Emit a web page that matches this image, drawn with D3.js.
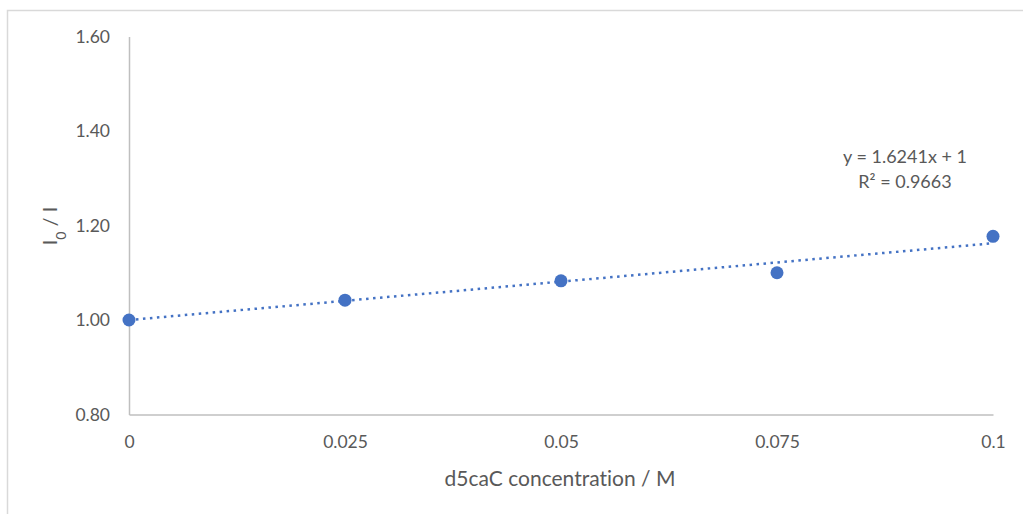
<!DOCTYPE html>
<html>
<head>
<meta charset="utf-8">
<script src="https://cdn.jsdelivr.net/npm/d3@7"></script>
<style>
  html, body { margin: 0; padding: 0; background: #fff; }
  svg { display: block; }
  text { font-family: Lato, "Open Sans", sans-serif; fill: #595959; font-variant-ligatures: none; }
</style>
</head>
<body>
<svg id="chart" width="1023" height="514"></svg>
<script>
// Concentrations (M) and measured I0/I ratios
const concentrations = [0, 0.025, 0.05, 0.075, 0.1];
const ratios = [1.000, 1.042, 1.083, 1.100, 1.177];
const xTicks = [0, 0.025, 0.05, 0.075, 0.1];
const xTickLabels = ["0", "0.025", "0.05", "0.075", "0.1"];
const yTicks = [0.8, 1.0, 1.2, 1.4, 1.6];
const yTickLabels = ["0.80", "1.00", "1.20", "1.40", "1.60"];
// Linear fit forced through intercept 1
const fitSlope = [1.6241];
const fitIntercept = [1];
const fitLabels = ["y = 1.6241x + 1", "R² = 0.9663"];

const svg = d3.select("#chart");
const blue = "#4472C4";
const axisGrey = "#bfbfbf";

// Chart frame
svg.append("path")
  .attr("d", "M7.5,514 L7.5,10.5 L1023,10.5")
  .attr("fill", "none")
  .attr("stroke", "#d9d9d9")
  .attr("stroke-width", 1.5);

const x = d3.scaleLinear().domain([0, 0.1]).range([129, 993]);
const y = d3.scaleLinear().domain([0.8, 1.6]).range([414.5, 36.5]);

// Y axis
const yAxis = d3.axisLeft(y).tickValues(yTicks)
  .tickFormat((d, i) => yTickLabels[i]).tickSize(0).tickPadding(19);
const gy = svg.append("g").attr("transform", `translate(${x(0)},0)`).call(yAxis);
gy.select(".domain").attr("stroke", axisGrey).attr("stroke-width", 1.5);
gy.selectAll("text").style("font-size", "17.5px").attr("fill", "#595959");

// X axis
const xAxis = d3.axisBottom(x).tickValues(xTicks)
  .tickFormat((d, i) => xTickLabels[i]).tickSize(0).tickPadding(21);
const gx = svg.append("g").attr("transform", `translate(0,${y(0.8)})`).call(xAxis);
gx.select(".domain").attr("stroke", axisGrey).attr("stroke-width", 1.5);
gx.selectAll("text").style("font-size", "17.5px").attr("fill", "#595959");

// Axis titles
svg.append("text")
  .attr("x", 560).attr("y", 486)
  .attr("text-anchor", "middle")
  .style("font-size", "21px")
  .text("d5caC concentration / M");

const yTitle = svg.append("text")
  .attr("transform", "translate(57,226) rotate(-90)")
  .attr("text-anchor", "middle")
  .style("font-size", "20px");
yTitle.append("tspan").text("I");
yTitle.append("tspan").attr("baseline-shift", "sub").style("font-size", "14px").text("0");
yTitle.append("tspan").text(" / I");

// Trendline
const fit = v => fitSlope[0] * v + fitIntercept[0];
svg.append("line")
  .attr("x1", x(0)).attr("y1", y(fit(0)))
  .attr("x2", x(0.1)).attr("y2", y(fit(0.1)))
  .attr("stroke", blue)
  .attr("stroke-width", 2.5)
  .attr("stroke-dasharray", "2.5 4.5");

// Data points
svg.append("g").selectAll("circle")
  .data(concentrations)
  .join("circle")
  .attr("cx", d => x(d))
  .attr("cy", (d, i) => y(ratios[i]))
  .attr("r", 6.5)
  .attr("fill", blue);

// Fit equation
svg.append("g").selectAll("text")
  .data(fitLabels)
  .join("text")
  .attr("x", 905)
  .attr("y", (d, i) => 163 + i * 25)
  .attr("text-anchor", "middle")
  .style("font-size", "18px")
  .text(d => d);
</script>
</body>
</html>
